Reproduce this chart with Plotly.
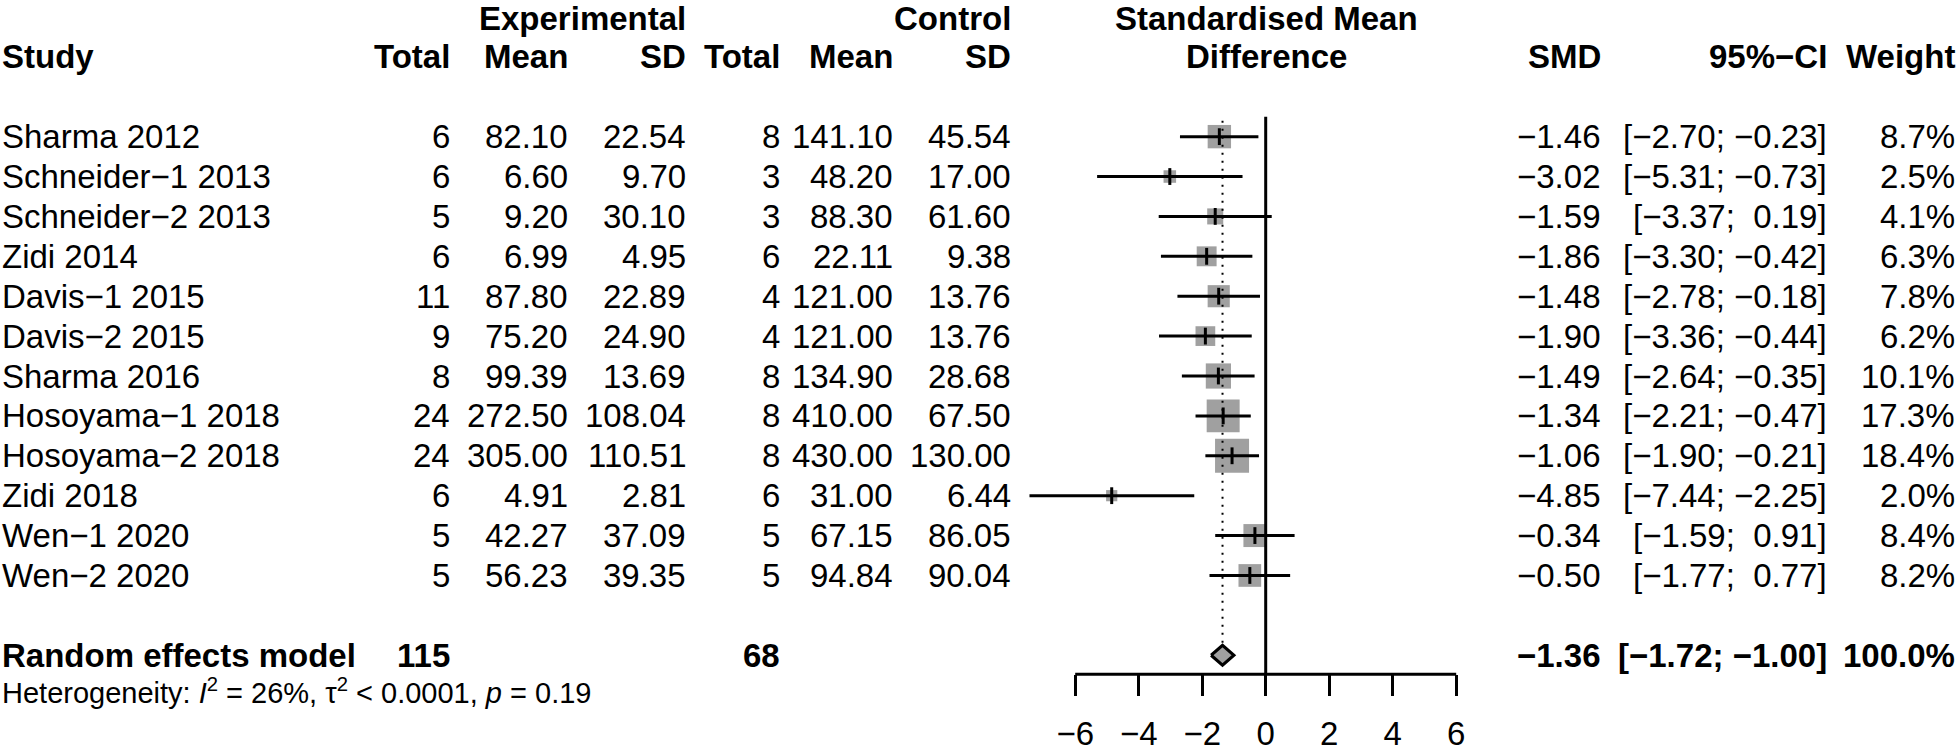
import math
import plotly.graph_objects as go

# study-level data
studies = ["Sharma 2012", "Schneider\u22121 2013", "Schneider\u22122 2013", "Zidi 2014",
           "Davis\u22121 2015", "Davis\u22122 2015", "Sharma 2016", "Hosoyama\u22121 2018",
           "Hosoyama\u22122 2018", "Zidi 2018", "Wen\u22121 2020", "Wen\u22122 2020"]
exp_n = [6, 6, 5, 6, 11, 9, 8, 24, 24, 6, 5, 5]
exp_mean = [82.10, 6.60, 9.20, 6.99, 87.80, 75.20, 99.39, 272.50, 305.00, 4.91, 42.27, 56.23]
exp_sd = [22.54, 9.70, 30.10, 4.95, 22.89, 24.90, 13.69, 108.04, 110.51, 2.81, 37.09, 39.35]
ctl_n = [8, 3, 3, 6, 4, 4, 8, 8, 8, 6, 5, 5]
ctl_mean = [141.10, 48.20, 88.30, 22.11, 121.00, 121.00, 134.90, 410.00, 430.00, 31.00, 67.15, 94.84]
ctl_sd = [45.54, 17.00, 61.60, 9.38, 13.76, 13.76, 28.68, 67.50, 130.00, 6.44, 86.05, 90.04]
smd = [-1.46, -3.02, -1.59, -1.86, -1.48, -1.90, -1.49, -1.34, -1.06, -4.85, -0.34, -0.50]
ci_lo = [-2.70, -5.31, -3.37, -3.30, -2.78, -3.36, -2.64, -2.21, -1.90, -7.44, -1.59, -1.77]
ci_hi = [-0.23, -0.73, 0.19, -0.42, -0.18, -0.44, -0.35, -0.47, -0.21, -2.25, 0.91, 0.77]
weight = [8.7, 2.5, 4.1, 6.3, 7.8, 6.2, 10.1, 17.3, 18.4, 2.0, 8.4, 8.2]

# pooled result
pooled_label = "Random effects model"
pooled_exp_n = 115
pooled_ctl_n = 68
pooled_smd = -1.36
pooled_lo = -1.72
pooled_hi = -1.00
pooled_weight = 100.0
het_text = ("Heterogeneity: <i>I</i><sup>2</sup> = 26%, \u03c4<sup>2</sup> &lt; 0.0001, "
            "<i>p</i> = 0.19")

x_ticks = [-6, -4, -2, 0, 2, 4, 6]

W, H = 1960, 752
ROW0 = 137      # pixel centre of first study row
ROW_H = 40
FONT = "Liberation Sans, Arial, sans-serif"
FS = 33
GREY = "#A0A0A0"

rows = list(range(len(studies)))
pooled_row = len(studies) + 1
het_row = pooled_row + 1
axis_row = 13.475


def num(v):
    return f"{v:.2f}".replace("-", "\u2212")


def padded(v):
    return num(v) if v < 0 else "\u00a0" + num(v)


def ci_text(lo, hi):
    return f"[{padded(lo)};\u00a0{padded(hi)}]"


fig = go.Figure()

# weighted squares
fig.add_trace(go.Scatter(
    x=smd, y=rows, mode="markers",
    marker=dict(symbol="square", color=GREY, opacity=1,
                size=[34 * math.sqrt(w / max(weight)) for w in weight],
                line=dict(width=0)),
    hoverinfo="skip"
))

# confidence intervals
ci_x, ci_y = [], []
for lo, hi, r in zip(ci_lo, ci_hi, rows):
    ci_x += [lo, hi, None]
    ci_y += [r, r, None]
fig.add_trace(go.Scatter(
    x=ci_x, y=ci_y, mode="lines",
    line=dict(color="black", width=3), hoverinfo="skip"
))

# point estimates
fig.add_trace(go.Scatter(
    x=smd, y=rows, mode="markers",
    marker=dict(symbol="line-ns", size=12, line=dict(color="black", width=3)),
    hoverinfo="skip"
))

# pooled estimate dotted line
fig.add_trace(go.Scatter(
    x=[pooled_smd, pooled_smd], y=[-0.4, pooled_row - 0.25], mode="lines",
    line=dict(color="black", width=2, dash="2px,6px"), hoverinfo="skip"
))

# line of no effect
fig.add_trace(go.Scatter(
    x=[0, 0], y=[-0.5, axis_row], mode="lines",
    line=dict(color="black", width=3), hoverinfo="skip"
))

# pooled diamond
fig.add_trace(go.Scatter(
    x=[pooled_lo, pooled_smd, pooled_hi, pooled_smd, pooled_lo],
    y=[pooled_row, pooled_row - 0.25, pooled_row, pooled_row + 0.25, pooled_row],
    mode="lines", fill="toself", fillcolor=GREY,
    line=dict(color="black", width=3), hoverinfo="skip"
))

ann = []


def cell(text, px, row, anchor="right", bold=False, size=FS):
    if bold:
        text = f"<b>{text}</b>"
    ann.append(dict(
        text=text, x=px / W, xref="paper", y=row, yref="y",
        xanchor=anchor, yanchor="middle", showarrow=False,
        borderpad=0, borderwidth=0,
        font=dict(family=FONT, size=size, color="black")
    ))


# column right edges (pixels)
C_EN, C_EM, C_ES = 450, 568, 686
C_CN, C_CM, C_CS = 780, 893, 1011
C_SMD, C_CI, C_W = 1601, 1827, 1955
X_LEFT = 2
X_MID = 1266
GROUP_ROW = -2.95

# headers
cell("Experimental", C_ES, GROUP_ROW, bold=True)
cell("Control", C_CS, GROUP_ROW, bold=True)
cell("Standardised Mean", X_MID, GROUP_ROW, anchor="center", bold=True)
cell("Study", X_LEFT, -2, anchor="left", bold=True)
for txt, px in [("Total", C_EN), ("Mean", C_EM), ("SD", C_ES),
                ("Total", C_CN), ("Mean", C_CM), ("SD", C_CS),
                ("SMD", C_SMD), ("95%\u2212CI", C_CI), ("Weight", C_W)]:
    cell(txt, px, -2, bold=True)
cell("Difference", X_MID, -2, anchor="center", bold=True)

# study rows
for i, r in enumerate(rows):
    cell(studies[i], X_LEFT, r, anchor="left")
    cell(str(exp_n[i]), C_EN, r)
    cell(num(exp_mean[i]), C_EM, r)
    cell(num(exp_sd[i]), C_ES, r)
    cell(str(ctl_n[i]), C_CN, r)
    cell(num(ctl_mean[i]), C_CM, r)
    cell(num(ctl_sd[i]), C_CS, r)
    cell(num(smd[i]), C_SMD, r)
    cell(ci_text(ci_lo[i], ci_hi[i]), C_CI, r)
    cell(f"{weight[i]:.1f}%", C_W, r)

# pooled row
cell(pooled_label, X_LEFT, pooled_row, anchor="left", bold=True)
cell(str(pooled_exp_n), C_EN, pooled_row, bold=True)
cell(str(pooled_ctl_n), C_CN, pooled_row, bold=True)
cell(num(pooled_smd), C_SMD, pooled_row, bold=True)
cell(ci_text(pooled_lo, pooled_hi), C_CI, pooled_row, bold=True)
cell(f"{pooled_weight:.1f}%", C_W, pooled_row, bold=True)
cell(het_text, X_LEFT, het_row - 0.1, anchor="left", size=29)

unit = 31.75
zero_px = 1265.7
fig.update_layout(
    width=W, height=H,
    margin=dict(l=0, r=0, t=0, b=0),
    paper_bgcolor="white", plot_bgcolor="white",
    showlegend=False,
    annotations=ann,
    shapes=[dict(type="line", xref="x", yref="y",
                 x0=min(x_ticks), x1=max(x_ticks), y0=axis_row, y1=axis_row,
                 line=dict(color="black", width=3))],
    xaxis=dict(
        range=[-8, 8],
        domain=[(zero_px - 8 * unit) / W, (zero_px + 8 * unit) / W],
        anchor="free", position=1 - (ROW0 + axis_row * ROW_H) / H,
        tickvals=x_ticks, ticks="outside", ticklen=21, tickwidth=3,
        tickcolor="black", showline=False, showgrid=False, zeroline=False,
        ticklabelstandoff=9,
        tickfont=dict(family=FONT, size=FS, color="black")
    ),
    yaxis=dict(
        range=[(H - ROW0) / ROW_H, -ROW0 / ROW_H],
        domain=[0, 1], visible=False
    )
)

fig.write_html("out.html", config={"displayModeBar": False},
               post_script="document.body.style.margin='0';")
